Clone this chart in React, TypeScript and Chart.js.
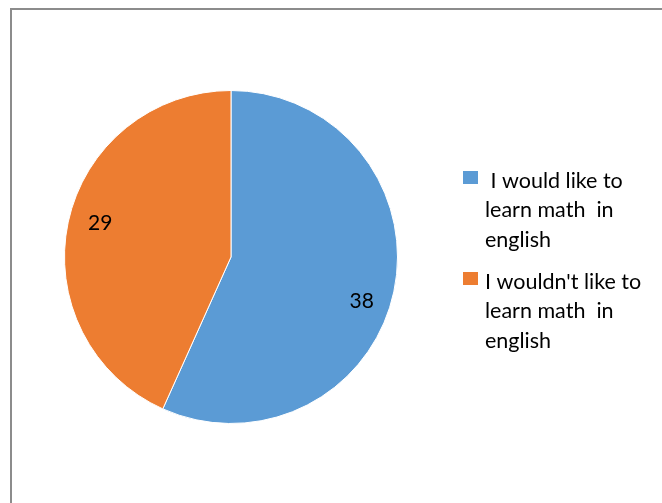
import React, { useEffect, useRef } from "react";
import { Chart, registerables } from "chart.js";

Chart.register(...registerables);

const categories = [
  "I would like to learn math in english",
  "I wouldn't like to learn math in english",
];
const legendLines = [
  [" I would like to", "learn math  in", "english"],
  ["I wouldn't like to", "learn math  in", "english"],
];
const values = [38, 29];
const colors = ["#5B9BD5", "#ED7D31"];

const FONT = "Lato, 'Liberation Sans', sans-serif";

const labelPlugin = {
  id: "sliceLabels",
  afterDatasetsDraw(chart: any) {
    const ctx = chart.ctx;
    const meta = chart.getDatasetMeta(0);
    ctx.save();
    ctx.font = `21px ${FONT}`;
    ctx.fillStyle = "#000";
    ctx.textAlign = "center";
    ctx.textBaseline = "alphabetic";
    meta.data.forEach((arc: any, i: number) => {
      const { x, y, startAngle, endAngle, outerRadius } = arc.getProps(
        ["x", "y", "startAngle", "endAngle", "outerRadius"],
        true
      );
      const mid = (startAngle + endAngle) / 2 + 0.08;
      const r = outerRadius * 0.82;
      // baseline placed so digits are vertically centred on the anchor point
      ctx.fillText(String(values[i]), x + Math.cos(mid) * r, y + Math.sin(mid) * r + 12);
    });
    ctx.restore();
  },
};

const legendPlugin = {
  id: "sideLegend",
  afterDraw(chart: any) {
    const ctx = chart.ctx;
    ctx.save();
    ctx.font = `21.5px ${FONT}`;
    ctx.fillStyle = "#000";
    ctx.textAlign = "left";
    ctx.textBaseline = "middle";
    const itemTops = [181, 282];
    categories.forEach((_, i) => {
      const y0 = itemTops[i];
      ctx.fillStyle = colors[i];
      ctx.fillRect(463, y0 - 10, 15, 13);
      ctx.fillStyle = "#000";
      legendLines[i].forEach((line, j) => {
        ctx.fillText(line, 485, y0 + j * 29.5);
      });
    });
    ctx.restore();
  },
};

export default function App() {
  const ref = useRef<HTMLCanvasElement | null>(null);
  useEffect(() => {
    if (!ref.current) return;
    const chart = new Chart(ref.current, {
      type: "pie",
      data: {
        labels: categories,
        datasets: [
          {
            data: values,
            backgroundColor: colors,
            borderColor: "#ffffff",
            borderWidth: 1,
          },
        ],
      },
      options: {
        responsive: false,
        animation: false,
        layout: { padding: { left: 64, top: 90, right: 264, bottom: 79 } },
        plugins: {
          legend: { display: false },
          tooltip: { enabled: false },
        },
      },
      plugins: [labelPlugin, legendPlugin],
    });
    return () => chart.destroy();
  }, []);
  return (
    <div style={{ position: "absolute", left: 0, top: 0, width: 662, height: 503, background: "#fff", overflow: "hidden" }}>
      <canvas ref={ref} width={662} height={503} style={{ position: "absolute", left: 0, top: 0 }} />
      <div
        style={{
          position: "absolute",
          left: 10,
          top: 8,
          width: 700,
          height: 600,
          border: "2px solid #8c8c8c",
          boxSizing: "border-box",
          pointerEvents: "none",
        }}
      />
    </div>
  );
}
